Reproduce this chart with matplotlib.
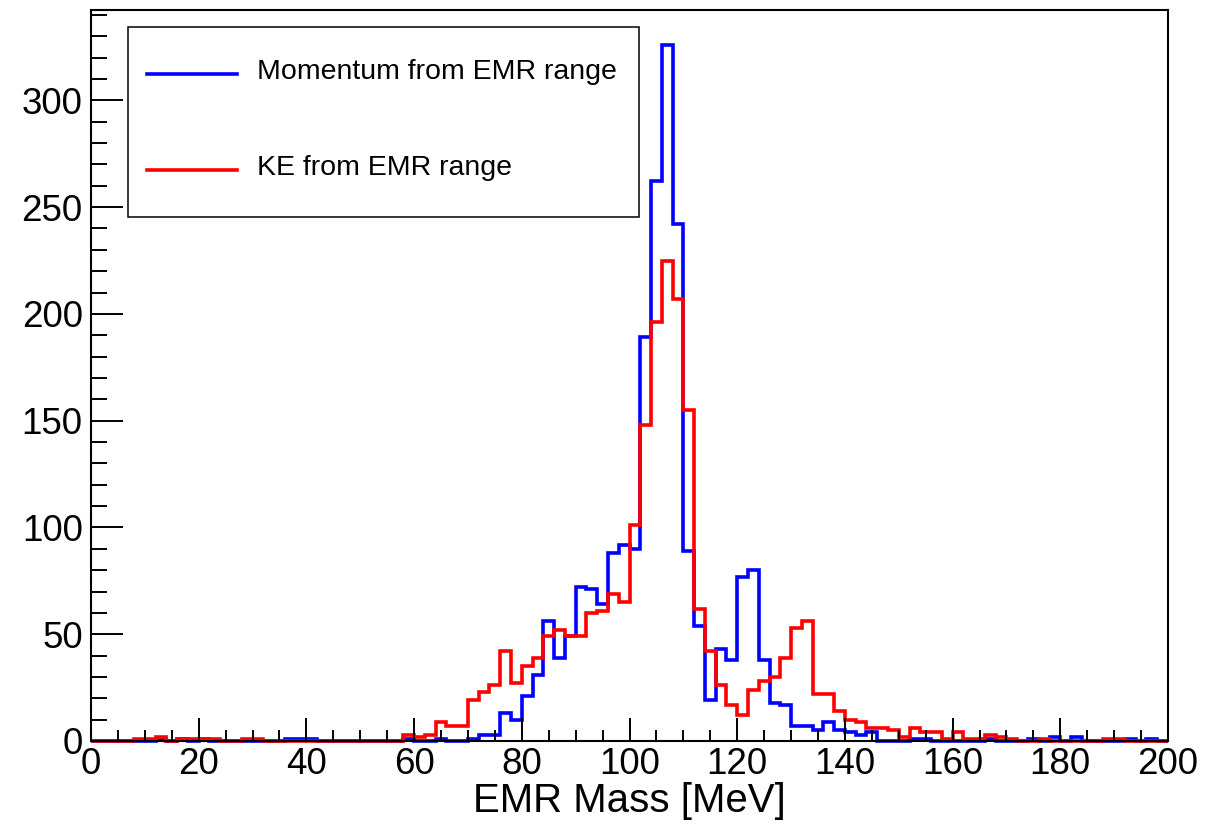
import numpy as np
import matplotlib.pyplot as plt
from matplotlib.patches import Rectangle
from matplotlib.lines import Line2D
from matplotlib.ticker import MultipleLocator

plt.rcParams['font.family'] = ['Liberation Sans', 'DejaVu Sans']

# 100 bins of 2 MeV between 0 and 200 MeV
bin_edges = np.linspace(0, 200, 101)

# reconstructed mass, momentum taken from the EMR range
momentum_counts = [
	0, 0, 0, 0, 0, 0, 1, 0, 1, 0,
	1, 0, 0, 0, 0, 0, 0, 0, 1, 1,
	1, 0, 0, 0, 0, 0, 0, 0, 0, 1,
	0, 0, 1, 0, 0, 1, 3, 3, 13, 10,
	21, 31, 56, 39, 49, 72, 71, 64, 88, 92,
	90, 189, 262, 326, 242, 89, 54, 19, 43, 38,
	77, 80, 38, 18, 17, 7, 7, 5, 9, 5,
	4, 3, 4, 0, 0, 0, 1, 1, 0, 0,
	0, 0, 0, 1, 0, 0, 0, 1, 0, 2,
	0, 2, 0, 0, 0, 0, 1, 0, 1, 0,
]

# reconstructed mass, kinetic energy taken from the EMR range
ke_counts = [
	0, 0, 0, 0, 1, 1, 2, 0, 1, 1,
	1, 1, 0, 0, 1, 1, 0, 0, 0, 0,
	0, 0, 0, 0, 0, 0, 0, 0, 0, 3,
	2, 3, 9, 7, 7, 19, 23, 26, 42, 27,
	35, 39, 49, 52, 49, 49, 60, 61, 69, 65,
	101, 148, 196, 225, 207, 155, 62, 42, 26, 17,
	12, 24, 28, 30, 39, 53, 56, 22, 22, 14,
	10, 9, 6, 6, 5, 2, 6, 4, 4, 1,
	4, 1, 1, 3, 2, 1, 0, 0, 1, 0,
	0, 0, 0, 0, 1, 1, 0, 0, 0, 0,
]

labels = ["Momentum from EMR range", "KE from EMR range"]
colors = ["#0000ff", "#ff0000"]

W, H = 1211, 825
fig = plt.figure(figsize=(W / 100, H / 100), dpi=100)
ax = fig.add_axes([91 / W, (H - 741) / H, 1077 / W, 731 / H])

for counts, col in zip([momentum_counts, ke_counts], colors):
	# not clipped, so the empty bins stay visible along the x axis
	ax.stairs(counts, bin_edges, color=col, linewidth=2.6, clip_on=False)

ax.set_xlim(0, 200)
ax.set_ylim(0, 1.05 * max(momentum_counts))

ax.xaxis.set_major_locator(MultipleLocator(20))
ax.xaxis.set_minor_locator(MultipleLocator(5))
ax.yaxis.set_major_locator(MultipleLocator(50))
ax.yaxis.set_minor_locator(MultipleLocator(10))

ax.tick_params(which="both", direction="in", top=False, right=False, width=1.4, labelsize=26.5)
ax.tick_params(axis="x", which="major", length=16.5, pad=4)
ax.tick_params(axis="x", which="minor", length=8)
ax.tick_params(axis="y", which="major", length=23, pad=6)
ax.tick_params(axis="y", which="minor", length=11.5)
for sp in ax.spines.values():
	sp.set_linewidth(1.5)
	sp.set_zorder(1)

ax.set_xlabel("EMR Mass [MeV]", fontsize=29)
ax.xaxis.set_label_coords(0.5, -0.056)

# legend box, drawn in figure pixels (origin top left)
def px(x, y):
	return x / W, 1 - y / H

x0, y0 = px(128, 217)
x1, y1 = px(639, 27)
fig.add_artist(Rectangle((x0, y0), x1 - x0, y1 - y0, transform=fig.transFigure,
	facecolor="white", edgecolor="black", linewidth=1.1, zorder=5))
for lab, col, yy in zip(labels, colors, [74, 170]):
	lx0, ly = px(147, yy)
	lx1, _ = px(237, yy)
	fig.add_artist(Line2D([lx0, lx1], [ly, ly], transform=fig.transFigure,
		color=col, linewidth=2.6, zorder=6))
	tx, ty = px(257, yy - 2)
	fig.text(tx, ty, lab, fontsize=20.5, va="center", ha="left", zorder=6)

fig.savefig("out.png", dpi=100)
